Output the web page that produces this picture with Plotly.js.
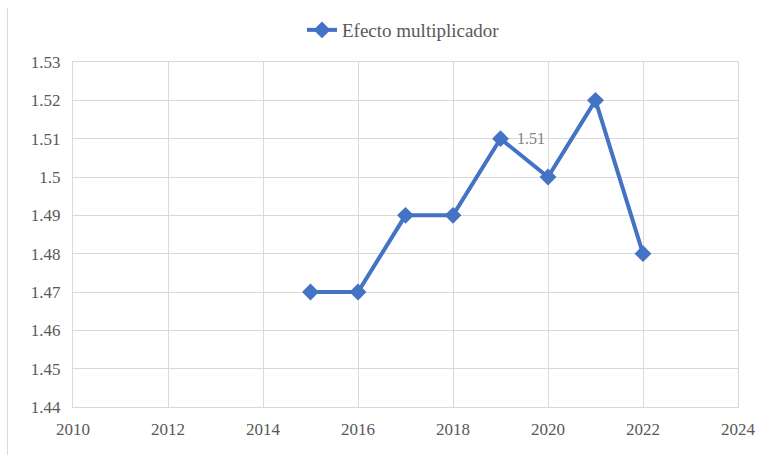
<!DOCTYPE html>
<html>
<head>
<meta charset="utf-8">
<script src="https://cdn.plot.ly/plotly-3.0.1.min.js"></script>
<style>
html,body{margin:0;padding:0;background:#fff;}
#wrap{position:relative;width:773px;height:455px;}
#frame{position:absolute;left:7px;top:8px;width:0;height:447px;border-left:1px solid #d9d9d9;}
#chart{position:absolute;left:0;top:0;width:773px;height:455px;}
</style>
</head>
<body>
<div id="wrap"><div id="frame"></div><div id="chart"></div></div>
<script>
const years = [2015, 2016, 2017, 2018, 2019, 2020, 2021, 2022];
const values = [1.47, 1.47, 1.49, 1.49, 1.51, 1.50, 1.52, 1.48];
const seriesName = 'Efecto multiplicador';
const yTickVals = [1.44, 1.45, 1.46, 1.47, 1.48, 1.49, 1.50, 1.51, 1.52, 1.53];
const yTickText = ['1.44', '1.45', '1.46', '1.47', '1.48', '1.49', '1.5', '1.51', '1.52', '1.53'];
const xTickVals = [2010, 2012, 2014, 2016, 2018, 2020, 2022, 2024];
const labelYear = 2019;
const labelValue = 1.51;

const fam = 'Liberation Serif, Times New Roman, serif';
const font = {family: fam, size: 17, color: '#595959'};

Plotly.newPlot('chart', [{
  x: years, y: values, name: seriesName, type: 'scatter', mode: 'lines+markers',
  line: {color: '#4472C4', width: 4},
  marker: {symbol: 'diamond', size: 13, color: '#4472C4'},
  showlegend: true
}], {
  width: 773, height: 455,
  margin: {l: 73, r: 35, t: 62, b: 48},
  paper_bgcolor: 'rgba(0,0,0,0)', plot_bgcolor: '#fff',
  font: font,
  showlegend: true,
  legend: {orientation: 'h', x: 0.522, xanchor: 'center', y: 0.934, yref: 'container', yanchor: 'middle', xref: 'container',
           font: {family: fam, size: 19, color: '#595959'}, bgcolor: 'rgba(0,0,0,0)', valign: 'middle'},
  xaxis: {range: [2010, 2024], tickvals: xTickVals, showgrid: true, gridcolor: '#d9d9d9', gridwidth: 1,
          showline: true, linecolor: '#d9d9d9', mirror: true, zeroline: false, ticks: '', ticklen: 0,
          ticklabelstandoff: 7, tickfont: font, fixedrange: true},
  yaxis: {range: [1.44, 1.53], tickvals: yTickVals, ticktext: yTickText, showgrid: true, gridcolor: '#d9d9d9', gridwidth: 1,
          showline: true, linecolor: '#d9d9d9', mirror: true, zeroline: false, ticks: '', ticklen: 0,
          ticklabelstandoff: 8, tickfont: font, fixedrange: true},
  annotations: [{x: labelYear, y: labelValue, xref: 'x', yref: 'y', text: String(labelValue), showarrow: false,
                 xanchor: 'left', xshift: 14, font: {family: fam, size: 16, color: '#7f7f7f'}}]
}, {displayModeBar: false, staticPlot: true});
</script>
</body>
</html>
